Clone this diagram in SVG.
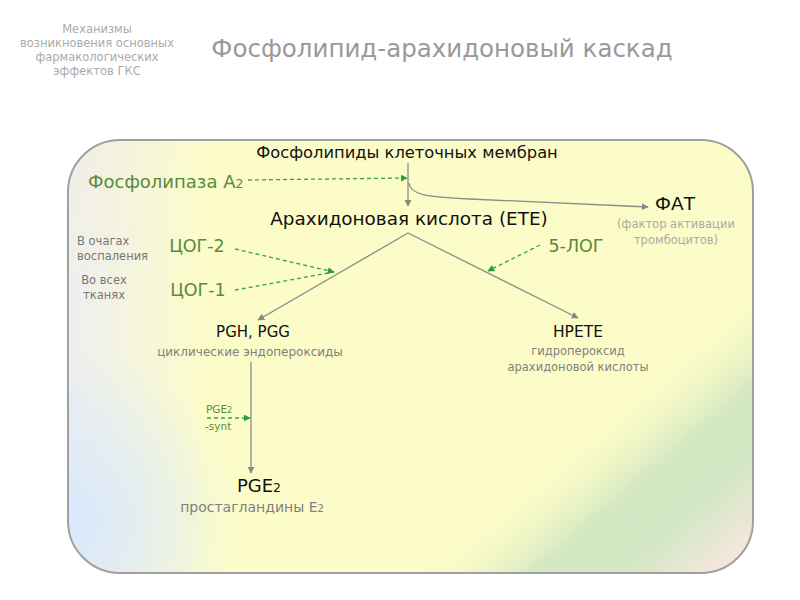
<svg xmlns="http://www.w3.org/2000/svg" width="800" height="600" viewBox="0 0 800 600">
<defs>
<linearGradient id="bg1" gradientUnits="userSpaceOnUse" x1="68" y1="0" x2="753" y2="0">
<stop offset="0" stop-color="#eeeef0"/>
<stop offset="0.2" stop-color="#fcfcca"/>
<stop offset="1" stop-color="#fcfcc8"/>
</linearGradient>
<radialGradient id="bgblue" gradientUnits="userSpaceOnUse" cx="68" cy="520" r="170">
<stop offset="0" stop-color="#d8e8fb" stop-opacity="1"/>
<stop offset="1" stop-color="#d8e8fb" stop-opacity="0"/>
</radialGradient>
<linearGradient id="bg2" gradientUnits="userSpaceOnUse" x1="68" y1="140" x2="571" y2="728">
<stop offset="0" stop-color="#f4e6e4" stop-opacity="0.5"/>
<stop offset="0.15" stop-color="#fcfcc8" stop-opacity="0"/>
<stop offset="0.71" stop-color="#fcfcc8" stop-opacity="0"/>
<stop offset="0.82" stop-color="#d2e7c2" stop-opacity="1"/>
<stop offset="0.89" stop-color="#d4e7c5" stop-opacity="1"/>
<stop offset="0.98" stop-color="#f9e6e0" stop-opacity="1"/>
</linearGradient>
<marker id="ag" viewBox="0 0 10 10" refX="9" refY="5" markerWidth="7" markerHeight="7" orient="auto" markerUnits="userSpaceOnUse">
<path d="M0,0 L10,5 L0,10 z" fill="#888"/>
</marker>
<marker id="agr" viewBox="0 0 10 10" refX="9" refY="5" markerWidth="7" markerHeight="7" orient="auto" markerUnits="userSpaceOnUse">
<path d="M0,0 L10,5 L0,10 z" fill="#22a040"/>
</marker>
</defs>
<style>
text{font-family:"DejaVu Sans","Open Sans",sans-serif;}
.blk{fill:#111;}
.grn{fill:#5a8a3a;}
.dgr{fill:#808080;}
.con{fill:none;stroke:#8a8a8a;stroke-width:1.3;}
.dash{fill:none;stroke:#3aa050;stroke-width:1.3;stroke-dasharray:4 3;}
</style>
<rect width="800" height="600" fill="#ffffff"/>
<g id="frame">
<rect x="68" y="140" width="685" height="433" rx="52" fill="url(#bg1)"/>
<rect x="68" y="140" width="685" height="433" rx="52" fill="url(#bgblue)"/>
<rect x="68" y="140" width="685" height="433" rx="52" fill="url(#bg2)" stroke="#a0a0a0" stroke-width="2"/>
</g>
<g id="header">
<text x="97" y="33" text-anchor="middle" font-size="11.5" fill="#aaa">Механизмы</text>
<text x="97" y="47" text-anchor="middle" font-size="11.5" fill="#aaa">возникновения основных</text>
<text x="97" y="61" text-anchor="middle" font-size="11.5" fill="#aaa">фармакологических</text>
<text x="97" y="75" text-anchor="middle" font-size="11.5" fill="#aaa">эффектов ГКС</text>
<text x="442" y="57" text-anchor="middle" font-size="24.5" fill="#999">Фосфолипид-арахидоновый каскад</text>
</g>
<g id="connectors">
<line class="con" x1="408" y1="163" x2="408" y2="206" marker-end="url(#ag)"/>
<path class="con" d="M409,183 C411,196 430,197 470,199 L648,207" marker-end="url(#ag)"/>
<line class="dash" x1="248" y1="180" x2="407" y2="178" marker-end="url(#agr)"/>
<line class="con" x1="408" y1="233" x2="258" y2="320" marker-end="url(#ag)"/>
<line class="con" x1="408" y1="233" x2="578" y2="318" marker-end="url(#ag)"/>
<line class="dash" x1="235" y1="249" x2="334" y2="272" marker-end="url(#agr)"/>
<line class="dash" x1="235" y1="290" x2="334" y2="272"/>
<line class="dash" x1="540" y1="245" x2="488" y2="271" marker-end="url(#agr)"/>
<line class="con" x1="251" y1="362" x2="251" y2="473" marker-end="url(#ag)"/>
<line class="dash" x1="207" y1="418" x2="250" y2="418" marker-end="url(#agr)"/>
</g>
<g id="phospholipids"><text x="407" y="158" text-anchor="middle" font-size="16.3" class="blk">Фосфолипиды клеточных мембран</text></g>
<g id="pla2"><text x="88" y="188" font-size="18" class="grn">Фосфолипаза А<tspan font-size="12.5">2</tspan></text></g>
<g id="fat">
<text x="675" y="210" text-anchor="middle" font-size="18.5" class="blk">ФАТ</text>
<text x="676" y="228" text-anchor="middle" font-size="11.5" fill="#aaa">(фактор активации</text>
<text x="676" y="244" text-anchor="middle" font-size="11.5" fill="#aaa">тромбоцитов)</text>
</g>
<g id="aa"><text x="409" y="225" text-anchor="middle" font-size="18.4" class="blk">Арахидоновая кислота (ЕТЕ)</text></g>
<g id="cox2">
<text x="77" y="245" font-size="11.5" fill="#777">В очагах</text>
<text x="77" y="260" font-size="11.5" fill="#777">воспаления</text>
<text x="197" y="252" text-anchor="middle" font-size="17.5" class="grn">ЦОГ-2</text>
</g>
<g id="cox1">
<text x="104" y="284" text-anchor="middle" font-size="11.5" fill="#777">Во всех</text>
<text x="104" y="299" text-anchor="middle" font-size="11.5" fill="#777">тканях</text>
<text x="198" y="296" text-anchor="middle" font-size="17.5" class="grn">ЦОГ-1</text>
</g>
<g id="lox5"><text x="576" y="252" text-anchor="middle" font-size="17.5" class="grn">5-ЛОГ</text></g>
<g id="pgh">
<text x="253" y="337" text-anchor="middle" font-size="15" class="blk">PGH, PGG</text>
<text x="250" y="356" text-anchor="middle" font-size="12" class="dgr">циклические эндопероксиды</text>
</g>
<g id="hpete">
<text x="578" y="337" text-anchor="middle" font-size="15.5" class="blk">HPETE</text>
<text x="578" y="355" text-anchor="middle" font-size="11.5" class="dgr">гидропероксид</text>
<text x="578" y="371" text-anchor="middle" font-size="11.5" class="dgr">арахидоновой кислоты</text>
</g>
<g id="pge2synt">
<text x="206" y="413" font-size="10.5" class="grn">PGE<tspan font-size="8">2</tspan></text>
<text x="205" y="430" font-size="10.5" class="grn">-synt</text>
</g>
<g id="pge2">
<text x="259" y="492" text-anchor="middle" font-size="18" class="blk">PGE<tspan font-size="12.5">2</tspan></text>
<text x="252" y="512" text-anchor="middle" font-size="14" class="dgr">простагландины Е<tspan font-size="10">2</tspan></text>
</g>
</svg>
